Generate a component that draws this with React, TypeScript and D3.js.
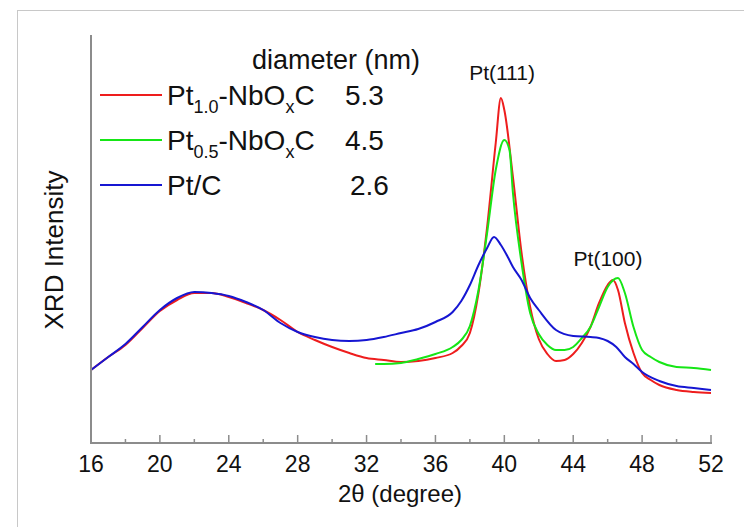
import React from "react";
import * as d3 from "d3";

const width = 744;
const height = 527;
const margin = { top: 35, right: 33, bottom: 84, left: 91 };

// 2theta positions and intensities (arb. units)
const redX = [16, 17, 18, 19, 20, 21, 22, 23, 24, 25, 26, 27, 28, 29, 30, 31, 32, 33, 34, 35, 36, 37, 37.5, 38, 38.5, 39, 39.5, 39.8, 40, 40.5, 41, 41.5, 42, 42.5, 43, 43.5, 44, 44.5, 45, 45.5, 46, 46.3, 46.6, 47, 47.5, 48, 48.5, 49, 50, 51, 52];
const redY = [73, 86, 98, 115, 132, 143, 150, 150, 146, 140, 133, 123, 111, 103, 96, 90, 85, 83, 81, 82, 85, 90, 97, 110, 150, 216, 300, 345, 333, 266, 190, 136, 104, 89, 82, 83, 89, 100, 116, 140, 158, 163, 153, 120, 90, 70, 63, 58, 53, 51, 50];

const greenX = [32.5, 33, 34, 35, 36, 37, 37.5, 38, 38.5, 39, 39.5, 40, 40.3, 40.5, 41, 41.5, 42, 42.5, 43, 43.5, 44, 44.5, 45, 45.5, 46, 46.6, 47, 47.5, 48, 48.5, 49, 50, 51, 52];
const greenY = [79, 79, 80, 84, 89, 96, 103, 117, 153, 210, 273, 303, 293, 250, 180, 130, 109, 98, 93, 93, 96, 105, 116, 136, 156, 165, 150, 116, 93, 86, 81, 76, 75, 73];

const blueX = [16, 17, 18, 19, 20, 21, 22, 23, 24, 25, 26, 27, 28, 29, 30, 31, 32, 33, 34, 35, 36, 37, 37.5, 38, 38.5, 39, 39.4, 39.8, 40.2, 40.5, 41, 41.5, 42, 43, 44, 45, 45.5, 46, 46.5, 47, 47.5, 48, 49, 50, 51, 52];
const blueY = [73, 86, 99, 116, 133, 145, 151, 150, 147, 141, 133, 120, 111, 106, 103, 102, 103, 106, 110, 114, 121, 131, 142, 158, 178, 195, 206, 198, 186, 176, 163, 145, 133, 113, 107, 106, 105, 102, 96, 86, 79, 71, 62, 57, 55, 53];

const xTicks = [16, 20, 24, 28, 32, 36, 40, 44, 48, 52];
const xMinorTicks = [18, 22, 26, 30, 34, 38, 42, 46, 50];

const series = [
  { name: "red", xs: redX, ys: redY, color: "#ee1d1d" },
  { name: "green", xs: greenX, ys: greenY, color: "#16e616" },
  { name: "blue", xs: blueX, ys: blueY, color: "#1616d2" },
];

const legendRows = [
  { color: "#ee1d1d", main: "Pt", sub: "1.0", rest: "-NbO", sub2: "x", tail: "C", size: "5.3" },
  { color: "#16e616", main: "Pt", sub: "0.5", rest: "-NbO", sub2: "x", tail: "C", size: "4.5" },
  { color: "#1616d2", main: "Pt/C", sub: "", rest: "", sub2: "", tail: "", size: "2.6" },
];

const font = "Arial, 'Liberation Sans', sans-serif";
const axisColor = "#8c8c8c";

export default function App() {
  const x = d3.scaleLinear().domain([16, 52]).range([margin.left, width - margin.right]);
  const y = d3.scaleLinear().domain([0, 408]).range([height - margin.bottom, margin.top]);
  const line = d3.line<number>().curve(d3.curveMonotoneX);
  const baseY = height - margin.bottom;

  return (
    <svg width={width} height={height} style={{ position: "absolute", left: 0, top: 0, background: "#fff" }} fontFamily={font}>
      <rect x={17.5} y={10.5} width={800} height={600} fill="none" stroke="#c8c8c8" strokeWidth={1} />

      {series.map(s => (
        <path
          key={s.name}
          d={line(s.xs.map((d, i) => [x(d), y(s.ys[i])]) as any) || ""}
          fill="none"
          stroke={s.color}
          strokeWidth={2}
        />
      ))}

      {/* axes */}
      <line x1={x(16)} x2={x(16)} y1={margin.top} y2={baseY} stroke={axisColor} strokeWidth={2} />
      <line x1={x(16) - 1} x2={x(52) + 1} y1={baseY} y2={baseY} stroke={axisColor} strokeWidth={2} />
      {xTicks.map(t => (
        <g key={t}>
          <line x1={x(t)} x2={x(t)} y1={baseY} y2={baseY - 8} stroke={axisColor} strokeWidth={1.5} />
          <text x={x(t)} y={baseY + 29} textAnchor="middle" fontSize={23} fill="#111">{t}</text>
        </g>
      ))}
      {xMinorTicks.map(t => (
        <line key={t} x1={x(t)} x2={x(t)} y1={baseY} y2={baseY - 4} stroke={axisColor} strokeWidth={1.5} />
      ))}
      <text x={400} y={502} textAnchor="middle" fontSize={24} fill="#111">
        2θ (degree)
      </text>
      <text transform={`translate(63,250) rotate(-90)`} textAnchor="middle" fontSize={26} fill="#111">
        XRD Intensity
      </text>

      {/* peak labels */}
      <text x={502} y={80} textAnchor="middle" fontSize={21} fill="#111">Pt(111)</text>
      <text x={608} y={266} textAnchor="middle" fontSize={21} fill="#111">Pt(100)</text>

      {/* legend */}
      <text x={252} y={69} fontSize={27} fill="#111">diameter (nm)</text>
      {legendRows.map((r, i) => {
        const ly = 95 + i * 45;
        return (
          <g key={i}>
            <line x1={100} x2={162} y1={ly} y2={ly} stroke={r.color} strokeWidth={2} />
            <text x={167} y={ly + 10} fontSize={28} fill="#111">
              {r.main}
              {r.sub && <tspan fontSize={18} dy={8}>{r.sub}</tspan>}
              {r.rest && <tspan dy={r.sub ? -8 : 0}>{r.rest}</tspan>}
              {r.sub2 && <tspan fontSize={18} dy={8}>{r.sub2}</tspan>}
              {r.tail && <tspan dy={-8}>{r.tail}</tspan>}
            </text>
            <text x={i === 2 ? 350 : 345} y={ly + 10} fontSize={28} fill="#111">{r.size}</text>
          </g>
        );
      })}
    </svg>
  );
}
